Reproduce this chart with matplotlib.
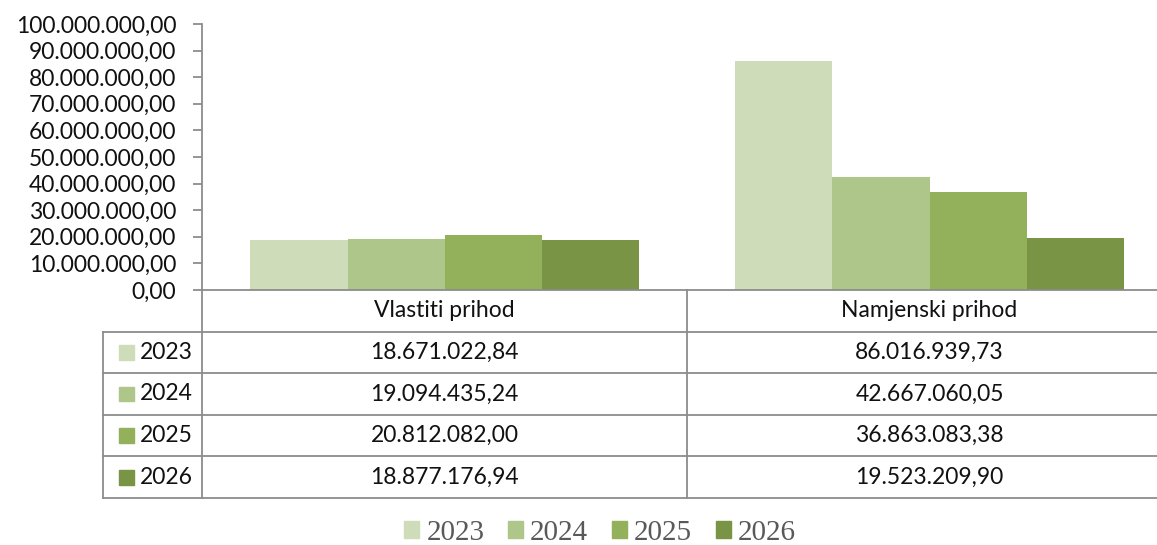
import matplotlib.pyplot as plt
from matplotlib.patches import Patch
import numpy as np

# data
categories = ['Vlastiti prihod', 'Namjenski prihod']
years = ['2023', '2024', '2025', '2026']
vlastiti = [18671022.84, 19094435.24, 20812082.00, 18877176.94]
namjenski = [86016939.73, 42667060.05, 36863083.38, 19523209.90]
colors = ['#cfdcb9', '#aec689', '#93b05a', '#7a9446']

values = np.array([vlastiti, namjenski]).T  # rows = years


def fmt(v):
    s = f'{v:,.2f}'
    return s.replace(',', 'X').replace('.', ',').replace('X', '.')


plt.rcParams['font.family'] = ['Lato', 'DejaVu Sans']
W, H = 1157, 545
fig = plt.figure(figsize=(W / 100, H / 100), dpi=100)

line_c = '#8c8c8c'
lw = 1.3
fs = 16.5

# chart area
ax = fig.add_axes([202 / W, 1 - 290 / H, 970 / W, (290 - 24) / H])
x = np.arange(len(categories)) + 0.5
bw = 0.2
for i, y in enumerate(years):
    ax.bar(x - 0.3 + i * bw, values[i], width=bw, color=colors[i], zorder=2)
ax.set_xlim(0, 2)
ax.set_ylim(0, 100_000_000)
yt = np.arange(0, 100_000_001, 10_000_000)
ax.set_yticks(yt)
ax.set_yticklabels([fmt(v) for v in yt], fontsize=fs, color='#111111')
ax.set_xticks([])
for s in ['top', 'right']:
    ax.spines[s].set_visible(False)
for s in ['left', 'bottom']:
    ax.spines[s].set_color(line_c)
    ax.spines[s].set_linewidth(lw)
ax.tick_params(axis='y', length=6.5, width=lw, color=line_c, pad=12)

# data table under the chart
tx = fig.add_axes([103 / W, 1 - 498 / H, (1172 - 103) / W, (498 - 290) / H])
tx.set_xlim(-99 / 485, 2)
tx.set_ylim(0, 5)
tx.axis('off')
kw = dict(color=line_c, lw=lw, clip_on=False)
for yy in range(0, 5):
    tx.plot([-99 / 485, 2], [yy, yy], **kw)
for xx in [0, 1]:
    tx.plot([xx, xx], [0, 5], **kw)
tx.plot([-99 / 485, -99 / 485], [0, 4], **kw)

for j, c in enumerate(categories):
    tx.text(j + 0.5, 4.5, c, ha='center', va='center', fontsize=fs, color='#111111')
for i, y in enumerate(years):
    row = 3.5 - i
    tx.add_patch(plt.Rectangle((-83 / 485, row - 0.18), 15 / 485, 0.36,
                               color=colors[i], clip_on=False))
    tx.text(-62 / 485, row, y, ha='left', va='center', fontsize=fs, color='#111111')
    for j in range(len(categories)):
        tx.text(j + 0.5, row, fmt(values[i][j]), ha='center', va='center',
                fontsize=fs, color='#111111')

# legend at the bottom
handles = [Patch(color=c, label=y) for c, y in zip(colors, years)]
fig.legend(handles=handles, loc='center', bbox_to_anchor=(600 / W, 1 - 533 / H),
           ncol=4, frameon=False, handlelength=0.52, handleheight=0.52,
           handletextpad=0.25, columnspacing=0.8, borderpad=0.1,
           prop={'family': 'Liberation Serif', 'size': 21}, labelcolor='#595959')

fig.savefig('out.png', dpi=100)
